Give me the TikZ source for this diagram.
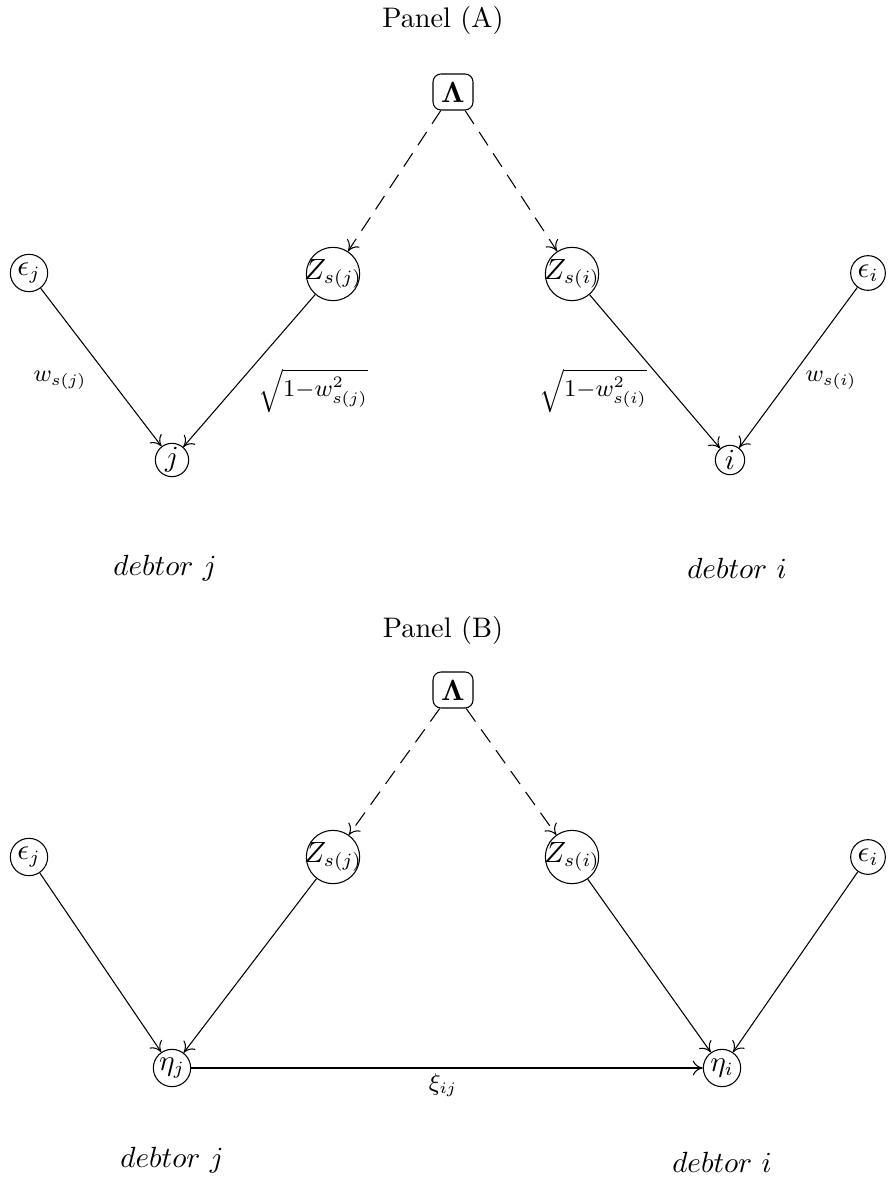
\documentclass[tikz,border=0pt]{standalone}
\usepackage{amsmath}
\usetikzlibrary{arrows.meta}
\begin{document}
\begin{tikzpicture}[x=0.375pt,y=-0.375pt,
  line width=0.4pt,
  every node/.style={font=\fontsize{10.6}{12.7}\selectfont},
  tip/.style={-{Computer Modern Rightarrow[length=3.8pt,width=5.6pt]}},
  link/.style={draw,tip},
  dlink/.style={draw,tip,dash pattern=on 6pt off 3.6pt},
  smallnode/.style={circle,draw,inner sep=0pt,minimum size=12.5pt},
  bignode/.style={circle,draw,inner sep=-2pt,minimum size=20pt},
  topnode/.style={draw,rounded corners=3pt,inner sep=0pt,minimum width=15pt,minimum height=13.5pt},
  lbl/.style={inner sep=0pt},
  elbl/.style={inner sep=0pt,font=\fontsize{9}{11}\selectfont}]
\useasboundingbox (0,0) rectangle (887,1179);

% ---------- Panel A ----------
\node[lbl] (titleA) at (443,20) {Panel (A)};
\node[topnode] (LA) at (453,92) {$\mathbf{\Lambda}$};
\node[bignode] (ZjA) at (333,274) {$Z_{s(j)}$};
\node[bignode] (ZiA) at (572,274) {$Z_{s(i)}$};
\node[smallnode,minimum size=14pt] (EjA) at (29,273) {$\epsilon_j$};
\node[smallnode,minimum size=13pt] (EiA) at (868,273) {$\epsilon_i$};
\node[smallnode,minimum size=12.5pt] (jA) at (172,460) {$j$};
\node[smallnode,minimum size=11pt] (iA) at (730,460) {$i$};

\draw[dlink] (LA) -- (ZjA);
\draw[dlink] (LA) -- (ZiA);
\draw[link] (EjA) -- (jA);
\draw[link] (ZjA) -- (jA);
\draw[link] (ZiA) -- (iA);
\draw[link] (EiA) -- (iA);

\node[elbl] (wjA) at (60,380) {$w_{s(j)}$};
\node[elbl] (sqjA) at (313,391) {$\sqrt{1{-}w^2_{s(j)}}$};
\node[elbl] (sqiA) at (593,391) {$\sqrt{1{-}w^2_{s(i)}}$};
\node[elbl] (wiA) at (831,380) {$w_{s(i)}$};

\node[lbl] (dbjA) at (165,568) {$debtor\ j$};
\node[lbl] (dbiA) at (737,568) {$debtor\ i$};

% ---------- Panel B ----------
\node[lbl] (titleB) at (443,630) {Panel (B)};
\node[topnode] (LB) at (453,690) {$\mathbf{\Lambda}$};
\node[bignode] (ZjB) at (333,857) {$Z_{s(j)}$};
\node[bignode] (ZiB) at (572,857) {$Z_{s(i)}$};
\node[smallnode,minimum size=14pt] (EjB) at (29,857) {$\epsilon_j$};
\node[smallnode,minimum size=13pt] (EiB) at (868,857) {$\epsilon_i$};
\node[smallnode,minimum size=14pt] (etaj) at (172,1068) {$\eta_j$};
\node[smallnode,minimum size=14pt] (etai) at (722,1068) {$\eta_i$};

\draw[dlink] (LB) -- (ZjB);
\draw[dlink] (LB) -- (ZiB);
\draw[link] (EjB) -- (etaj);
\draw[link] (ZjB) -- (etaj);
\draw[link] (ZiB) -- (etai);
\draw[link] (EiB) -- (etai);
\draw[link] (etaj) -- (etai);

\node[elbl] (xi) at (443,1085) {$\xi_{ij}$};

\node[lbl] (dbjB) at (172,1160) {$debtor\ j$};
\node[lbl] (dbiB) at (722,1162) {$debtor\ i$};
\end{tikzpicture}
\end{document}
